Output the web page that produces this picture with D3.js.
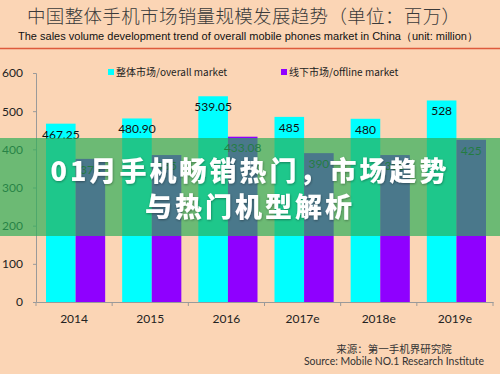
<!DOCTYPE html>
<html>
<head>
<meta charset="utf-8">
<script src="https://cdn.jsdelivr.net/npm/d3@7"></script>
<style>
  html, body { margin: 0; padding: 0; background: #fbd5b5; }
  svg { display: block; }
</style>
</head>
<body>
<div id="chart"></div>
<script>
const years = ['2014', '2015', '2016', '2017e', '2018e', '2019e'];
const overallMarket = [467.25, 480.90, 539.05, 485, 480, 528];
const offlineMarket = [375, 385, 433.08, 390, 385, 425];
const yTicks = [0, 100, 200, 300, 400, 500, 600];
const seriesNames = ['overall', 'offline'];

const width = 500;
const height = 374;

const svg = d3.select('#chart')
  .append('svg')
  .attr('width', width)
  .attr('height', height);

svg.append('rect')
  .attr('width', width)
  .attr('height', height)
  .attr('fill', '#fbd5b5');

// header
svg.append('text')
  .attr('x', 27)
  .attr('y', 23)
  .attr('textLength', 433)
  .attr('lengthAdjust', 'spacing')
  .style('font-family', '"Noto Sans CJK SC"')
  .style('font-weight', 300)
  .style('font-size', '18.5px')
  .attr('fill', '#3a3a3a')
  .text('中国整体手机市场销量规模发展趋势（单位：百万）');

svg.append('text')
  .attr('x', 18)
  .attr('y', 40)
  .attr('textLength', 460)
  .attr('lengthAdjust', 'spacingAndGlyphs')
  .style('font-family', '"Liberation Sans", Arial, sans-serif')
  .style('font-size', '11px')
  .attr('fill', '#111')
  .text('The sales volume development trend of overall mobile phones market in China（unit: million）');

svg.append('line')
  .attr('x1', 0).attr('x2', width)
  .attr('y1', 48.5).attr('y2', 48.5)
  .attr('stroke', '#de5a3c')
  .attr('stroke-width', 1.5);

// scales
const x = d3.scaleBand()
  .domain(years)
  .range([36, 493]);

const x1 = d3.scaleBand()
  .domain(seriesNames)
  .range([10, x.bandwidth() - 7]);

const y = d3.scaleLinear()
  .domain([0, 600])
  .range([302, 73]);

const color = d3.scaleOrdinal()
  .domain(seriesNames)
  .range(['#00ffff', '#8f00ff']);

const fmt = v => Number.isInteger(v) ? String(v) : v.toFixed(2);

// axes
const yAxis = svg.append('g')
  .attr('transform', 'translate(36,0)')
  .call(d3.axisLeft(y).tickValues(yTicks).tickSize(3).tickPadding(10));
yAxis.selectAll('path, line').attr('stroke', '#9a9a9a');
yAxis.selectAll('text')
  .style('font-family', 'Lato, "Open Sans", sans-serif')
  .style('font-size', '12px')
  .attr('fill', '#222');

const xAxis = svg.append('g')
  .attr('transform', 'translate(0,302)')
  .call(d3.axisBottom(x).tickSize(0).tickPadding(12));
xAxis.select('.domain').attr('stroke', '#9a9a9a');
xAxis.selectAll('text')
  .style('font-family', 'Lato, "Open Sans", sans-serif')
  .style('font-size', '12px')
  .attr('fill', '#222');

xAxis.selectAll('.boundary')
  .data(years.concat(['end']))
  .enter()
  .append('line')
  .attr('class', 'boundary')
  .attr('x1', d => d === 'end' ? x.range()[1] : x(d))
  .attr('x2', d => d === 'end' ? x.range()[1] : x(d))
  .attr('y1', 0)
  .attr('y2', 4)
  .attr('stroke', '#9a9a9a');

// bars
const rows = years.map((yr, i) => ({
  year: yr,
  values: [
    { key: 'overall', value: overallMarket[i] },
    { key: 'offline', value: offlineMarket[i] }
  ]
}));

const groups = svg.selectAll('.grp')
  .data(rows)
  .enter()
  .append('g')
  .attr('class', 'grp')
  .attr('transform', d => `translate(${x(d.year)},0)`);

groups.selectAll('rect')
  .data(d => d.values)
  .enter()
  .append('rect')
  .attr('x', d => x1(d.key))
  .attr('width', x1.bandwidth())
  .attr('y', d => y(d.value))
  .attr('height', d => y(0) - y(d.value))
  .attr('fill', d => color(d.key));

groups.selectAll('text')
  .data(d => d.values)
  .enter()
  .append('text')
  .attr('x', d => x1(d.key) + x1.bandwidth() / 2)
  .attr('y', d => y(d.value) + 15)
  .attr('text-anchor', 'middle')
  .style('font-family', 'Lato, "Open Sans", sans-serif')
  .style('font-size', '12px')
  .attr('fill', '#111')
  .text(d => fmt(d.value));

// legend
const legendItems = [
  { key: 'overall', label: '整体市场/overall market', x: 108 },
  { key: 'offline', label: '线下市场/offline market', x: 281 }
];

const legend = svg.selectAll('.legend')
  .data(legendItems)
  .enter()
  .append('g')
  .attr('class', 'legend')
  .attr('transform', d => `translate(${d.x},72)`);

legend.append('rect')
  .attr('x', 0).attr('y', -3)
  .attr('width', 6).attr('height', 6)
  .attr('fill', d => color(d.key));

legend.append('text')
  .attr('x', 8)
  .attr('y', 4)
  .style('font-family', '"Noto Sans CJK SC", sans-serif')
  .style('font-size', '10px')
  .attr('fill', '#222')
  .text(d => d.label);

// source
svg.append('text')
  .attr('x', 394)
  .attr('y', 353)
  .attr('text-anchor', 'middle')
  .style('font-family', '"Noto Sans CJK SC", sans-serif')
  .style('font-size', '10.5px')
  .attr('fill', '#333')
  .text('来源：第一手机界研究院');

svg.append('text')
  .attr('x', 394)
  .attr('y', 365)
  .attr('text-anchor', 'middle')
  .attr('textLength', 180)
  .attr('lengthAdjust', 'spacingAndGlyphs')
  .style('font-family', 'Lato, "Open Sans", sans-serif')
  .style('font-size', '11px')
  .attr('fill', '#333')
  .text('Source: Mobile NO.1 Research Institute');

// banner overlay
svg.append('rect')
  .attr('x', 0).attr('y', 138)
  .attr('width', width).attr('height', 98)
  .attr('fill', 'rgb(44,174,87)')
  .attr('fill-opacity', 0.69);

const defs = svg.append('defs');
const shadow = defs.append('filter').attr('id', 'shadow');
shadow.append('feDropShadow')
  .attr('dx', 0.5).attr('dy', 1)
  .attr('stdDeviation', 1)
  .attr('flood-color', '#000')
  .attr('flood-opacity', 0.35);

const bannerLines = ['01月手机畅销热门，市场趋势', '与热门机型解析'];
svg.selectAll('.banner')
  .data(bannerLines)
  .enter()
  .append('text')
  .attr('class', 'banner')
  .attr('x', 250)
  .attr('y', (d, i) => 181 + i * 36)
  .attr('text-anchor', 'middle')
  .style('font-family', '"Noto Sans CJK SC", sans-serif')
  .style('font-weight', 900)
  .style('font-size', '27px')
  .style('letter-spacing', '3px')
  .attr('fill', '#fff')
  .attr('filter', 'url(#shadow)')
  .text(d => d);
</script>
</body>
</html>
